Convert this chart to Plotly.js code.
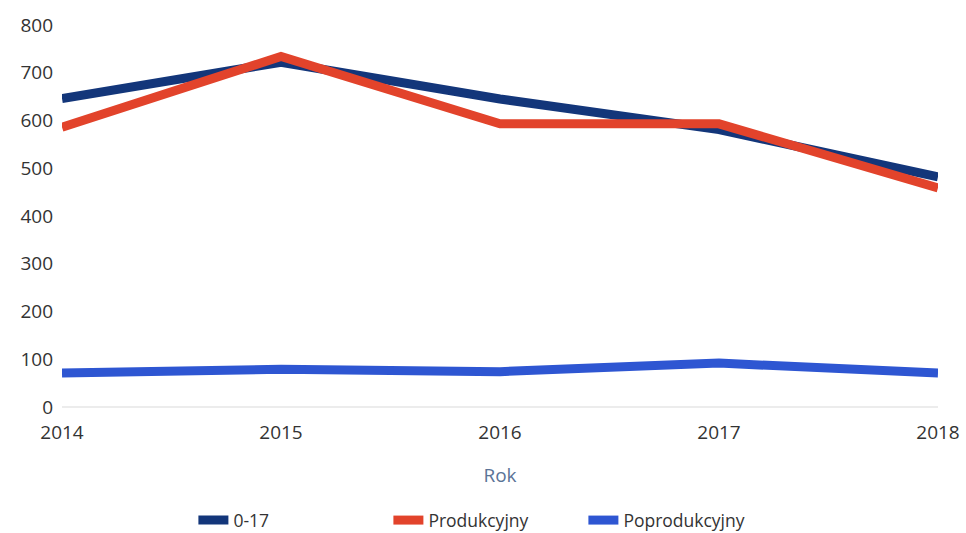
<!DOCTYPE html>
<html>
<head>
<meta charset="utf-8">
<script src="https://cdn.plot.ly/plotly-3.0.1.min.js"></script>
<style>html,body{margin:0;padding:0;background:#fff;}#chart{width:966px;height:533px;}</style>
</head>
<body>
<div id="chart"></div>
<script>
const years = [2014, 2015, 2016, 2017, 2018];
const series017 = [646, 722, 645, 581, 482];
const produkcyjny = [586, 734, 593, 593, 459];
const poprodukcyjny = [71, 79, 74, 92, 71];
const seriesNames = ['0-17', 'Produkcyjny', 'Poprodukcyjny'];
const seriesColors = ['#13367a', '#e2432b', '#2e56d2'];
const yTicks = [0, 100, 200, 300, 400, 500, 600, 700, 800];

const allSeries = [series017, produkcyjny, poprodukcyjny];
const traces = allSeries.map((vals, i) => ({
  x: years, y: vals, type: 'scatter', mode: 'lines', name: seriesNames[i],
  line: {color: seriesColors[i], width: 9, shape: 'linear'},
  hoverinfo: 'x+y+name'
}));

const layout = {
  width: 966, height: 533,
  margin: {l: 62, r: 28, t: 25, b: 126, autoexpand: false},
  paper_bgcolor: '#ffffff', plot_bgcolor: '#ffffff',
  font: {family: '"Open Sans", "DejaVu Sans", sans-serif', color: '#333333', size: 17},
  showlegend: true,
  xaxis: {
    range: [2014, 2018], tickvals: years, ticktext: years.map(String),
    showgrid: false, zeroline: false, showline: false, ticks: '',
    tickfont: {size: 19, color: '#333333'},
    ticklabelstandoff: 12,
    title: {text: 'Rok', font: {size: 19, color: '#5b7397'}, standoff: 24}
  },
  yaxis: {
    range: [0, 800], tickvals: yTicks, ticktext: yTicks.map(String),
    showgrid: false, zeroline: true, zerolinecolor: '#ececec', zerolinewidth: 2,
    showline: false, ticks: '',
    ticklabelstandoff: 8,
    tickfont: {size: 19, color: '#333333'}
  },
  legend: {
    orientation: 'h', x: 0.15, xanchor: 'left', yref: 'container', y: 0.024, yanchor: 'middle',
    font: {size: 17.5, color: '#333333'},
    entrywidth: 150, entrywidthmode: 'pixels',
    bgcolor: 'rgba(0,0,0,0)'
  }
};

Plotly.newPlot('chart', traces, layout, {displayModeBar: false, staticPlot: true});
</script>
</body>
</html>
